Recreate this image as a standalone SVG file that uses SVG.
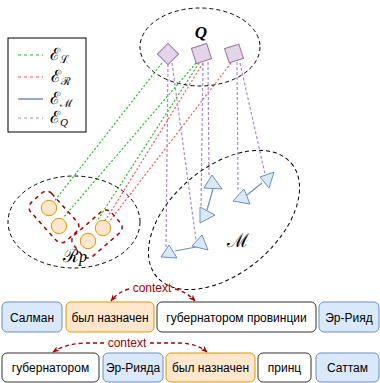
<svg xmlns="http://www.w3.org/2000/svg" width="380" height="383" viewBox="0 0 380 383">
<defs>
<style>
.ell{fill:none;stroke:#000;stroke-width:1;stroke-dasharray:4 3}
.sq{fill:#e1d5e7;stroke:#9673a6;stroke-width:1}
.tri{fill:#dae8fc;stroke:#6c8ebf;stroke-width:1}
.cir{fill:#ffe6cc;stroke:#d79b00;stroke-width:1}
.grp{fill:none;stroke:#a50000;stroke-width:1.5;stroke-dasharray:4 4}
.eL{fill:none;stroke:#22bb22;stroke-width:1.2;stroke-dasharray:2 2}
.eR{fill:none;stroke:#ff5555;stroke-width:1.2;stroke-dasharray:2 2}
.eQ{fill:none;stroke:#a98cc5;stroke-width:1.2;stroke-dasharray:3 2}
.eM{fill:none;stroke:#6c8ebf;stroke-width:1.2}
.math{font-family:"DejaVu Serif","Liberation Serif",serif;fill:#000}
.it{font-family:"Liberation Serif","DejaVu Serif",serif;font-style:italic;fill:#000}
.sub{font-size:11px}
.wb{fill:#dae8fc;stroke:#6c8ebf}
.wo{fill:#ffe6cc;stroke:#d79b00}
.ww{fill:#fff;stroke:#333}
.wt{font-family:"Liberation Sans",Arial,sans-serif;font-size:12px;fill:#000;text-anchor:middle}
.ctx{fill:none;stroke:#a50000;stroke-width:1.3;stroke-dasharray:4 3}
.ctxt{font-family:"Liberation Sans",Arial,sans-serif;font-size:12px;fill:#a50000;text-anchor:middle}
</style>
<marker id="ah" viewBox="0 0 10 10" refX="9" refY="5" markerWidth="7" markerHeight="7" orient="auto-start-reverse" markerUnits="userSpaceOnUse">
<path d="M0,1 L10,5 L0,9 L3,5 Z" fill="#a50000"/>
</marker>
</defs>

<g id="legend">
<rect x="8" y="38" width="78" height="94" fill="#fff" stroke="#000" stroke-width="1"/>
<line x1="18" y1="55" x2="43" y2="55" stroke="#22bb22" stroke-width="1.2" stroke-dasharray="3 3"/>
<line x1="18" y1="77" x2="43" y2="77" stroke="#ff5555" stroke-width="1.2" stroke-dasharray="3 3"/>
<line x1="18" y1="99" x2="43" y2="99" stroke="#6c8ebf" stroke-width="1.5"/>
<line x1="18" y1="118" x2="43" y2="118" stroke="#a98cc5" stroke-width="1.2" stroke-dasharray="3 3"/>
<text class="math" x="50" y="60" font-size="17">ℰ<tspan class="sub" dy="3">ℒ</tspan></text>
<text class="math" x="51" y="82" font-size="17">ℰ<tspan class="sub" dy="3">ℛ</tspan></text>
<text class="math" x="50" y="104" font-size="17">ℰ<tspan class="sub" dy="3">ℳ</tspan></text>
<text class="math" x="50" y="123" font-size="17">ℰ<tspan class="it sub" dy="3">Q</tspan></text>
</g>

<g id="connectors">
<line class="eL" x1="162" y1="63" x2="53" y2="203"/>
<line class="eL" x1="196" y1="63" x2="63" y2="218"/>
<line class="eL" x1="199" y1="63" x2="97" y2="221"/>
<line class="eR" x1="203" y1="63" x2="105" y2="221"/>
<line class="eR" x1="231" y1="63" x2="109" y2="222"/>
<line class="eQ" x1="168" y1="64" x2="166" y2="249"/>
<line class="eQ" x1="172" y1="63" x2="196" y2="240"/>
<line class="eQ" x1="208" y1="62" x2="209" y2="177"/>
<line class="eQ" x1="203" y1="63" x2="201" y2="208"/>
<line class="eQ" x1="237" y1="62" x2="238" y2="192"/>
<line class="eQ" x1="240" y1="63" x2="265" y2="174"/>
<line class="eM" x1="213" y1="189" x2="207" y2="210"/>
<line class="eM" x1="247" y1="195" x2="262" y2="183"/>
<line class="eM" x1="175" y1="251" x2="196" y2="247"/>
</g>

<g id="Q">
<ellipse class="ell" cx="200" cy="47" rx="60" ry="39"/>
<text class="it" x="201" y="38" font-size="17" font-weight="bold" text-anchor="middle">Q</text>
</g>
<g id="q1"><rect class="sq" x="-7.5" y="-7.5" width="15" height="15" transform="translate(168,54) rotate(45)"/></g>
<g id="q2"><rect class="sq" x="-8" y="-8" width="16" height="16" transform="translate(201.5,53.5) rotate(-18)"/></g>
<g id="q3"><rect class="sq" x="-7.5" y="-7.5" width="15" height="15" transform="translate(234,53.5) rotate(-18)"/></g>

<g id="Rp">
<ellipse class="ell" cx="74" cy="222" rx="66" ry="46"/>
<rect class="grp" x="-26" y="-14" width="52" height="28" rx="7" transform="translate(54,217) rotate(48)"/>
<rect class="grp" x="-25" y="-14" width="50" height="28" rx="7" transform="translate(97,234) rotate(-41)"/>
<text class="math" x="63" y="262" font-size="18">ℛ<tspan class="it" font-size="16">p</tspan></text>
</g>
<g id="r1"><circle class="cir" cx="49" cy="208" r="7.7"/></g>
<g id="r2"><circle class="cir" cx="59" cy="226" r="7.7"/></g>
<g id="r3"><circle class="cir" cx="103" cy="228" r="7.7"/></g>
<g id="r4"><circle class="cir" cx="88" cy="241" r="7.7"/></g>

<g id="M">
<ellipse class="ell" cx="224" cy="220" rx="88" ry="53" transform="rotate(-40 224 220)"/>
<text class="math" x="238" y="247" font-size="19" text-anchor="middle">ℳ</text>
</g>
<g id="m1"><polygon class="tri" points="212,175 222,189 204,188"/></g>
<g id="m2"><polygon class="tri" points="200,207 215,215 200,223"/></g>
<g id="m3"><polygon class="tri" points="233,201 244,189 250,204"/></g>
<g id="m4"><polygon class="tri" points="260,177 274,172 269,188"/></g>
<g id="m5"><polygon class="tri" points="161,257 169,245 177,258"/></g>
<g id="m6"><polygon class="tri" points="192,246 202,235 208,250"/></g>

<g id="row1">
<rect class="wb" x="2" y="302" width="60" height="30" rx="5"/>
<text class="wt" x="32" y="322">Салман</text>
<rect class="wo" x="66" y="302" width="88" height="30" rx="5"/>
<text class="wt" x="110" y="322">был назначен</text>
<rect class="ww" x="157" y="302" width="159" height="30" rx="5"/>
<text class="wt" x="236.5" y="322">губернатором провинции</text>
<rect class="wb" x="319" y="302" width="60" height="30" rx="5"/>
<text class="wt" x="349" y="322">Эр-Рияд</text>
<path class="ctx" d="M129,289 Q118,292 111,301" marker-end="url(#ah)"/>
<path class="ctx" d="M175,289 Q187,292 195,301" marker-end="url(#ah)"/>
<text class="ctxt" x="152" y="292">context</text>
</g>

<g id="row2">
<rect class="ww" x="2" y="353" width="97" height="29" rx="5"/>
<text class="wt" x="50.5" y="372">губернатором</text>
<rect class="wb" x="103" y="353" width="60" height="29" rx="5"/>
<text class="wt" x="133" y="372">Эр-Рияда</text>
<rect class="wo" x="166" y="353" width="89" height="29" rx="5"/>
<text class="wt" x="210.5" y="372">был назначен</text>
<rect class="ww" x="258" y="353" width="53" height="29" rx="5"/>
<text class="wt" x="284.5" y="372">принц</text>
<rect class="wb" x="316" y="353" width="63" height="29" rx="5"/>
<text class="wt" x="347.5" y="372">Саттам</text>
<path class="ctx" d="M104,343 L85,343 Q65,344 53,352" marker-end="url(#ah)"/>
<path class="ctx" d="M150,343 L180,343 Q198,344 207,352" marker-end="url(#ah)"/>
<text class="ctxt" x="127" y="347">context</text>
</g>
</svg>
